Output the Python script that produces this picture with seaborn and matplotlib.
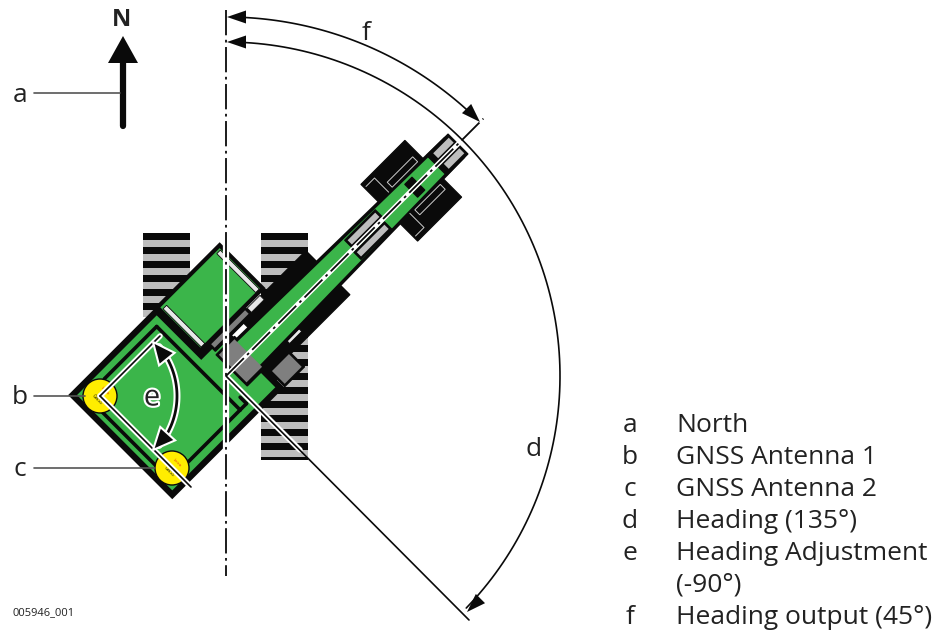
import numpy as np
import pandas as pd
import matplotlib.pyplot as plt
import matplotlib.patheffects as pe
import seaborn as sns
from matplotlib.patches import Polygon, Circle

sns.set_theme(style="white")
plt.rcParams['font.family'] = ['Open Sans', 'DejaVu Sans']

GREEN = '#3bb54a'
YELLOW = '#ffed00'
BLACK = '#0a0a0a'
GREY = '#bdbdbd'
MID = '#7f7f7f'

# legend
legend_keys = ['a', 'b', 'c', 'd', 'e', '', 'f']
legend_text = ['North', 'GNSS Antenna 1', 'GNSS Antenna 2', 'Heading (135°)',
               'Heading Adjustment', '(-90°)', 'Heading output (45°)']
legend_y = [425, 457, 489, 521, 553, 585, 617]

# machine parts, (u0, u1, v0, v1) along / across the boom
origin = (226, 376)
track_x = [(143, 190), (261, 308)]
track_y = [(233, 317), (233, 460)]
rear_blocks = [(231, 293, -40, 40), (50, 145, -32, -12), (18, 145, 12, 30)]
low_blocks = [(8, 34, -22, 22), (34, 62, 27, 49), (10, 62, -35, -25)]
slots = [(298, 328, -14, -2), (298, 328, 2, 14), (180, 223, -12, -2), (178, 221, 3, 13),
         (262, 272, -9, -3), (262, 272, 3, 9)]
grey_parts = [(10, 32, -20, 19), (36, 60, 29, 47), (12, 60, -33, -28),
              (304, 326, -11, -4), (304, 326, 4, 11), (182, 221, -10, -4), (180, 219, 5, 11)]
white_strips = [(3, 8, -92, -38), (80, 85, -93, -38), (63, 81, -33, -27), (68, 85, 18, 22)]
detail_rects = [(251, 287, -23, -16), (251, 287, 16, 23)]
detail_ls = [[(233, -35), (245, -35), (245, -15)], [(233, 35), (245, 35), (245, 15)]]
body = [(-122, -95), (-3, -95), (-3, -32), (30, -32), (30, 46), (-122, 46)]
cab = (0, 88, -97, -36)
boom = [(28, -18), (322, -13), (322, 13), (28, 18)]
frame_lines = [((-14, -84), (-14, 34)), ((-14, -84), (-88, -84)), ((-14, 34), (-92, 34)),
               ((-113, -84), (-113, 35)), ((-5, 25), (-5, 34)), ((-5, 34), (-14, 34))]
antenna_xy = [(100, 396), (172, 468)]
antenna_r = 17

# dimension arcs: bearing from, bearing to, radius
arc_d = (1, 134, 334)
arc_f = (1, 44, 359)
arc_e = (50, 130, 77)
leaders = [((34, 93), (120, 93)), ((34, 396), (85, 396)), ((34, 468), (155, 468))]
labels = ['a', 'b', 'c', 'd', 'f']
label_xy = [(20, 95), (20, 397), (20, 469), (534, 450), (366, 34)]


def uv(u, v):
    return (origin[0] + (u + v) / np.sqrt(2), origin[1] + (v - u) / np.sqrt(2))


def rect(r, **kw):
    u0, u1, v0, v1 = r
    ax.add_patch(Polygon([uv(u0, v0), uv(u1, v0), uv(u1, v1), uv(u0, v1)], **kw))


def line(xs, ys, **kw):
    sns.lineplot(x=xs, y=ys, sort=False, estimator=None, legend=False, ax=ax, **kw)


def arc(center, a0, a1, r, **kw):
    t = np.radians(np.linspace(a0, a1, 120))
    line(center[0] + r * np.sin(t), center[1] - r * np.cos(t), **kw)


def head(tip, bearing, length=19, width=13, edge=None):
    t = np.radians(bearing)
    d = np.array([np.sin(t), -np.cos(t)])
    n = np.array([d[1], -d[0]])
    tip = np.array(tip, dtype=float)
    pts = [tip, tip - d * length + n * width / 2, tip - d * length - n * width / 2]
    ax.add_patch(Polygon(pts, fc=BLACK, ec=edge or BLACK, lw=1.5 if edge else 0, zorder=8))


fig = plt.figure(figsize=(9.48, 6.31), dpi=100)
ax = fig.add_axes([0, 0, 1, 1])

# tracks
for (x0, x1), (y0, y1) in zip(track_x, track_y):
    ax.add_patch(plt.Rectangle((x0, y0), x1 - x0, y1 - y0, fc=GREY, ec='none'))
    for y in np.arange(y0, y1, 14):
        ax.add_patch(plt.Rectangle((x0, y), x1 - x0, min(7, y1 - y), fc=BLACK, ec='none'))

# machine
for r in rear_blocks:
    rect(r, fc=BLACK, ec=BLACK, lw=1, joinstyle='round')
ax.add_patch(Polygon([uv(*p) for p in body], fc=GREEN, ec=BLACK, lw=4.5, joinstyle='miter'))
rect(cab, fc=GREEN, ec=BLACK, lw=3)
for r in white_strips:
    rect(r, fc='#e8e8e8', ec=BLACK, lw=0.6)
for a, b in frame_lines:
    pa, pb = uv(*a), uv(*b)
    line([pa[0], pb[0]], [pa[1], pb[1]], color=BLACK, lw=2.6)
for r in low_blocks:
    rect(r, fc=BLACK, ec=BLACK, lw=1)
ax.add_patch(Polygon([uv(*p) for p in boom], fc=GREEN, ec=BLACK, lw=2.5))
for r in slots:
    rect(r, fc=BLACK, ec=BLACK, lw=1, joinstyle='round')
for r in grey_parts:
    rect(r, fc=MID if r[0] < 60 else GREY, ec='none')
for r in detail_rects:
    rect(r, fc='none', ec='#cccccc', lw=0.7)
for pts in detail_ls:
    xy = [uv(*p) for p in pts]
    line([p[0] for p in xy], [p[1] for p in xy], color='#cccccc', lw=0.7)

# antennas
for c in antenna_xy:
    ax.add_patch(Circle(c, antenna_r, fc=YELLOW, ec=BLACK, lw=1, zorder=4))
    ax.text(c[0] - 3, c[1] + 3, 'GNSS', fontsize=3.5, rotation=-45, ha='center', va='center', color=BLACK, zorder=5)
    ax.text(c[0] + 5, c[1] - 5, 'Leica', fontsize=3, rotation=-45, ha='center', va='center', color='#e2231a', zorder=5)

# centre lines
line([226, 226], [245, 450], color='white', lw=4.5, zorder=6)
line([226, 226], [10, 576], color=BLACK, lw=1.3, dashes=(14, 2.5, 1.5, 2.5), zorder=7)
p0, p1, p2 = uv(0, 0), uv(328, 0), uv(364, 0)
line([p0[0], p1[0]], [p0[1], p1[1]], color='white', lw=3.5, zorder=6)
line([p0[0], p2[0]], [p0[1], p2[1]], color=BLACK, lw=1.3, dashes=(14, 2.5, 1.5, 2.5), zorder=7)

# white/black construction lines
for (a, b) in [(antenna_xy[0], (160, 336)), (antenna_xy[0], (191, 487))]:
    line([a[0], b[0]], [a[1], b[1]], color='white', lw=4, zorder=6)
    line([a[0], b[0]], [a[1], b[1]], color=BLACK, lw=1.2, zorder=7)
line([226, 300], [376, 450], color='white', lw=4, zorder=6)
line([226, 469], [376, 620], color=BLACK, lw=1.2, zorder=7)

# dimension arcs
arc(origin, *arc_d, color=BLACK, lw=1.2, zorder=7)
arc(origin, *arc_f, color=BLACK, lw=1.2, zorder=7)
arc(antenna_xy[0], *arc_e, color='white', lw=5, zorder=7)
arc(antenna_xy[0], *arc_e, color=BLACK, lw=2, zorder=7)
head((227, 17), 270)
head((227, 42), 270)
head((480, 122), 135)
head((467, 612), 225)
head((153, 342), 321, 22, 20, edge='white')
head((153, 450), 222, 22, 20, edge='white')

# north arrow
line([123, 123], [126, 58], color=BLACK, lw=4.5, solid_capstyle='round')
ax.add_patch(Polygon([(123, 36), (108, 63), (138, 63)], fc=BLACK, ec='none'))
ax.text(122, 20, 'N', fontsize=17, fontweight='bold', ha='center', va='center', color='#222222')

# leaders and letters
for a, b in leaders:
    line([a[0], b[0]], [a[1], b[1]], color='#555555', lw=1.2, zorder=9)
for s, (x, y) in zip(labels, label_xy):
    ax.text(x, y, s, fontsize=19, ha='center', va='center', color='#222222')
ax.text(152, 398, 'e', fontsize=21, ha='center', va='center', color='#222222', zorder=9,
        path_effects=[pe.withStroke(linewidth=3, foreground='white')])

# legend text
for k, s, y in zip(legend_keys, legend_text, legend_y):
    ax.text(630, y, k, fontsize=19, ha='center', va='center', color='#222222')
    ax.text(676, y, s, fontsize=19, ha='left', va='center', color='#222222')
ax.text(13, 613, '005946_001', fontsize=8, ha='left', va='center', color='#222222')

ax.set_xlim(0, 948)
ax.set_ylim(631, 0)
ax.axis('off')

fig.savefig('out.png', dpi=100)
